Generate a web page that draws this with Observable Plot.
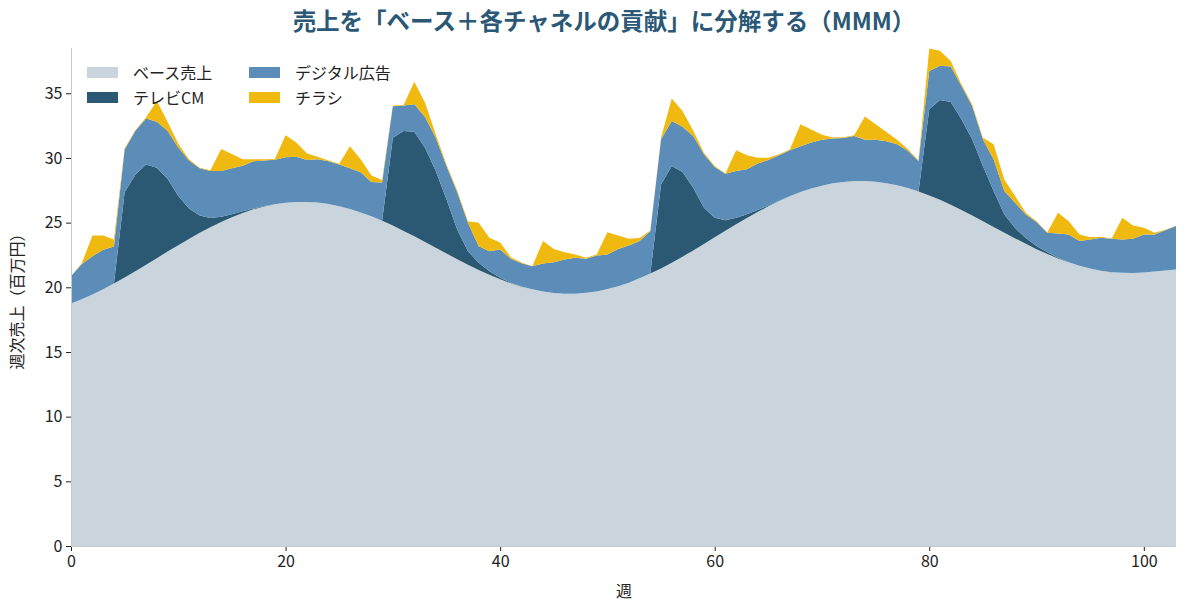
<!DOCTYPE html>
<html><head><meta charset="utf-8">
<script src="https://cdn.jsdelivr.net/npm/d3@7"></script>
<script src="https://cdn.jsdelivr.net/npm/@observablehq/plot@0.6"></script>
<style>
body{margin:0;background:#fff;font-family:"Noto Sans CJK JP","Noto Sans",sans-serif;}
#wrap{position:relative;width:1188px;height:612px;overflow:hidden;background:#fff;}
#chart{position:absolute;left:0;top:0;}
#title{position:absolute;top:3px;left:20px;width:1168px;text-align:center;font-size:23.5px;font-weight:700;color:#2b5876;white-space:nowrap;}
.lg{position:absolute;height:20px;display:flex;align-items:center;font-size:16px;color:#222;white-space:nowrap;}
.sw{width:31px;height:11px;margin-right:15px;}
</style></head><body>
<div id="wrap"><div id="chart"></div><div id="title">売上を「ベース＋各チャネルの貢献」に分解する（MMM）</div><div id="legend"></div></div>
<script>
const seriesNames = ["ベース売上", "テレビCM", "デジタル広告", "チラシ"];
const colors = ["#c9d4dc", "#2b5872", "#5b8db8", "#f0b90f"];
const xTicks = [0, 20, 40, 60, 80, 100];
const yTicks = [0, 5, 10, 15, 20, 25, 30, 35];
const weeks = d3.range(104);

const base = [18.75,19.07,19.44,19.85,20.29,20.75,21.24,21.74,22.25,22.76,
 23.26,23.74,24.21,24.65,25.05,25.42,25.75,26.03,26.25,26.42,
 26.54,26.60,26.60,26.55,26.44,26.27,26.06,25.79,25.49,25.14,
 24.77,24.36,23.94,23.50,23.05,22.61,22.17,21.75,21.34,20.97,
 20.62,20.31,20.05,19.84,19.67,19.56,19.51,19.51,19.57,19.68,
 19.86,20.08,20.36,20.69,21.06,21.46,21.90,22.37,22.85,23.35,
 23.86,24.37,24.87,25.35,25.82,26.26,26.67,27.03,27.36,27.64,
 27.86,28.04,28.15,28.21,28.22,28.16,28.05,27.89,27.67,27.41,
 27.10,26.76,26.38,25.97,25.55,25.11,24.67,24.22,23.78,23.36,
 22.95,22.58,22.23,21.93,21.66,21.45,21.28,21.17,21.12,21.10,
 21.15,21.22,21.30,21.38];

const tv = [0,0,0,0,0,6.6,7.46,7.76,7.0,5.64,
 3.79,2.36,1.34,0.7,0.4,0.22,0.12,0.06,0.03,0,
 0,0,0,0,0,0,0,0,0,0,
 6.8,7.72,8.09,7.29,5.94,4.19,2.3,1.04,0.55,0.27,
 0.11,0.05,0.02,0,0,0,0,0,0,0,
 0,0,0,0,0,6.49,7.47,6.54,4.85,2.8,
 1.52,0.82,0.51,0.3,0.15,0.07,0.03,0,0,0,
 0,0,0,0,0,0,0,0,0,0,
 6.66,7.72,7.95,7.02,5.89,4.26,2.77,1.41,0.8,0.45,
 0.25,0.12,0.05,0,0,0,0,0,0,0,
 0,0,0,0];

const digital = [2.1,2.73,2.96,3.05,2.86,3.3,3.4,3.55,3.55,3.7,
 3.75,3.7,3.65,3.65,3.55,3.56,3.53,3.66,3.52,3.45,
 3.51,3.5,3.25,3.35,3.31,3.23,3.14,3.11,2.66,2.96,
 2.43,1.97,2.12,2.38,2.58,2.57,2.88,2.2,1.29,1.55,
 2.19,1.84,1.79,1.79,2.17,2.38,2.64,2.77,2.63,2.78,
 2.67,2.89,2.87,2.88,3.28,3.49,3.49,3.51,4.0,4.13,
 3.92,3.59,3.61,3.47,3.61,3.51,3.5,3.57,3.54,3.56,
 3.54,3.46,3.4,3.49,3.18,3.24,3.25,3.16,2.88,2.35,
 2.97,2.64,2.74,2.58,2.58,2.07,2.45,1.81,1.96,1.82,
 1.84,1.51,1.88,2.15,1.91,2.25,2.55,2.58,2.58,2.65,
 2.93,2.86,3.12,3.35];

const flyer = [0,0.05,1.6,1.1,0.55,0.1,0.05,0.1,1.6,0.7,
 0.3,0.1,0.05,0.05,1.7,1.1,0.5,0.15,0.1,0.05,
 1.7,1.1,0.5,0.2,0.05,0.05,1.7,1.0,0.5,0.2,
 0.05,0.05,1.75,1.1,0.26,0.13,0.13,0.12,1.81,1.04,
 0.55,0.13,0.05,0.0,1.73,1.03,0.56,0.25,0.08,0.07,
 1.73,1.03,0.52,0.25,0.05,0.13,1.73,1.21,0.4,0.12,
 0.07,0.02,1.6,1.08,0.44,0.18,0.08,0.05,1.7,1.0,
 0.4,0.08,0.05,0.05,1.8,1.2,0.7,0.35,0.15,0.05,
 1.73,1.16,0.43,0.13,0.13,0.13,1.16,0.9,0.51,0.13,
 0.07,0.02,1.6,1.03,0.51,0.17,0.07,0.03,1.67,1.03,
 0.52,0.13,0.03,0.02];

const seriesValues = [base, tv, digital, flyer];
const rows = [];
seriesNames.forEach((name, i) => {
  weeks.forEach(w => rows.push({week: w, series: name, value: seriesValues[i][w]}));
});

const chart = Plot.plot({
  width: 1188, height: 612,
  marginTop: 48, marginBottom: 66, marginLeft: 71, marginRight: 12,
  style: {fontFamily: '"Noto Sans CJK JP", "Noto Sans", sans-serif', fontSize: "16px", color: "#222", background: "#fff", overflow: "visible"},
  x: {domain: [0, 103], ticks: xTicks, label: "週", labelAnchor: "center", labelArrow: "none", labelOffset: 50, tickSize: 5, tickPadding: 4},
  y: {domain: [0, 38.5], ticks: yTicks, label: "週次売上（百万円）", labelAnchor: "center", labelArrow: "none", labelOffset: 60, tickSize: 5, tickPadding: 4},
  color: {domain: seriesNames, range: colors},
  marks: [
    Plot.areaY(rows, {x: "week", y: "value", fill: "series", z: "series", order: seriesNames}),
    Plot.ruleX([0], {stroke: "#c8c8c8"}),
    Plot.ruleY([0], {stroke: "#c8c8c8"})
  ]
});
document.getElementById("chart").appendChild(chart);

// legend (two columns)
const legendPos = [[87, 62], [87, 87], [249, 62], [249, 87]];
const legendOrder = [0, 1, 2, 3];
const lg = document.getElementById("legend");
legendOrder.forEach((i, k) => {
  const d = document.createElement("div");
  d.className = "lg";
  d.style.left = legendPos[k][0] + "px";
  d.style.top = legendPos[k][1] + "px";
  const sw = document.createElement("span");
  sw.className = "sw";
  sw.style.background = colors[i];
  d.appendChild(sw);
  d.appendChild(document.createTextNode(seriesNames[i]));
  lg.appendChild(d);
});
</script>
</body></html>
